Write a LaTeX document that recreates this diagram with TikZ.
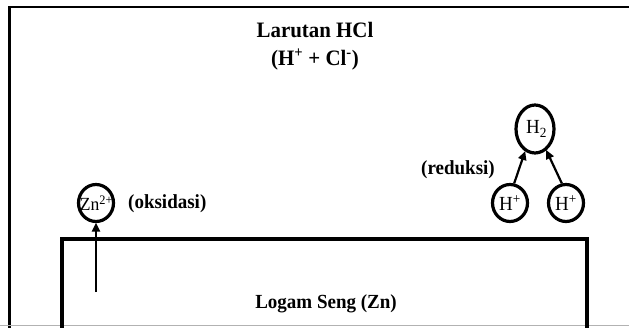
\documentclass[tikz,border=0pt]{standalone}
\usepackage{fontspec}
\setmainfont[FakeStretch=0.95]{Liberation Serif}
\usetikzlibrary{shapes.geometric,arrows.meta}
\tikzset{
  ion/.style={draw, ellipse, line width=3.2pt, inner sep=0pt, font=\fontsize{20}{22}\selectfont},
  smallion/.style={ion, minimum width=35pt, minimum height=37pt},
  bigion/.style={ion, minimum width=38pt, minimum height=48pt},
  lbl/.style={font=\fontsize{20}{23}\selectfont\bfseries, inner sep=0pt},
  ttl/.style={font=\fontsize{22}{25}\selectfont\bfseries, inner sep=0pt},
  arr/.style={line width=2.2pt, -{Triangle[length=9pt,width=8pt]}, shorten >=-0.5pt}
}
\begin{document}
\begin{tikzpicture}[x=1pt,y=-1pt]
\useasboundingbox (0,0) rectangle (629,327);
% container
\draw[line width=1.6pt] (629,7) -- (8.2,7);
\draw[line width=3pt] (9.5,6.3) -- (9.5,330);
\draw[gray!60, line width=1pt] (0,325.8) -- (629,325.8);
% zinc plate
\draw[line width=3.2pt] (62,330) -- (62,239) -- (587,239) -- (587,330);
% texts
\node[ttl, anchor=base] (title) at (315,37.5) {Larutan HCl};
\node[ttl, anchor=base] (ions) at (315,65) {(H\textsuperscript{+} + Cl\textsuperscript{-})};
\node[lbl, anchor=base] (metal) at (326,308.5) {Logam Seng (Zn)};
\node[lbl, anchor=west] (oks) at (128,204) {(oksidasi)};
\node[lbl, anchor=west] (red) at (421,170) {(reduksi)};
% ions
\node[smallion] (zn) at (96,203) {\makebox[0pt]{\fontsize{18.5}{20}\selectfont\hspace{1pt}Zn\textsuperscript{2+}}};
\node[smallion] (hl) at (510,203) {\makebox[0pt]{H\textsuperscript{+}}};
\node[smallion] (hr) at (566,203) {\makebox[0pt]{H\textsuperscript{+}}};
\node[bigion] (h2) at (535,129) {\makebox[0pt]{\hspace{3pt}H\textsubscript{2}}};
% arrows
\coordinate (znstart) at (96,292);
\draw[arr] (znstart) -- (zn.south);
\draw[arr] (hl.78) -- (h2.246);
\draw[arr] (hr.102) -- (h2.298);
\end{tikzpicture}
\end{document}
